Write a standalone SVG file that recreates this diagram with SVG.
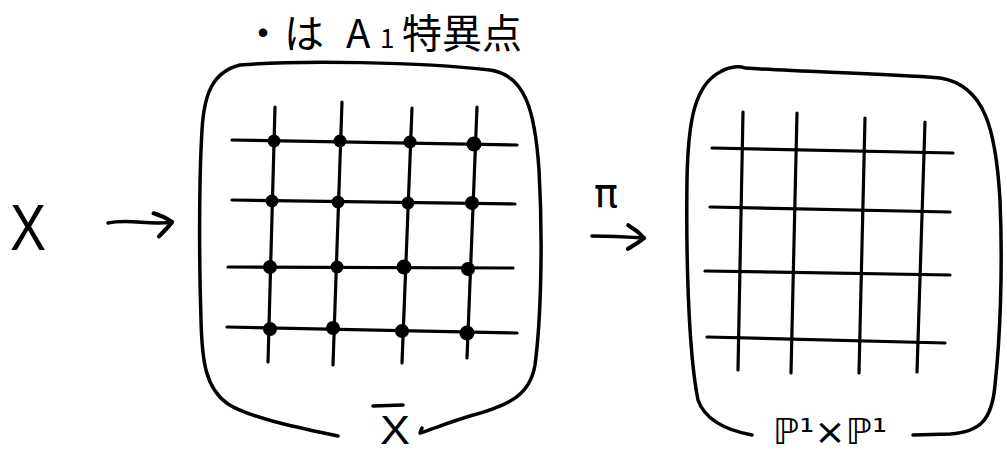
<svg xmlns="http://www.w3.org/2000/svg" width="1007" height="450" viewBox="0 0 1007 450">
<style>
  .ink{fill:none;stroke:#000;stroke-width:3.5;stroke-linecap:round;stroke-linejoin:round}
  .grid{fill:none;stroke:#000;stroke-width:3.2;stroke-linecap:round}
  .dot{fill:#000}
  .lat{font-family:"Liberation Sans",Arial,sans-serif;fill:#000}
  .jp{font-family:"Noto Sans CJK JP",sans-serif;fill:#000}
  .math{font-family:"DejaVu Sans",sans-serif;fill:#000}
</style>
<defs>
  <marker id="head" markerUnits="userSpaceOnUse" markerWidth="24" markerHeight="26" viewBox="0 0 20 22" refX="16" refY="11" orient="auto" overflow="visible">
    <path d="M2,1 C8,4 12,7 16,11 C12,15 7,18 3,21" fill="none" stroke="#000" stroke-width="3.5" stroke-linecap="round" stroke-linejoin="round"/>
  </marker>
</defs>
<rect width="1007" height="450" fill="#fff"/>

<g id="node-X">
  <text class="lat" x="10" y="250" font-size="64" textLength="36" lengthAdjust="spacingAndGlyphs">X</text>
</g>

<g id="node-Xbar">
  <path class="ink" d="M338,436 C300,428 250,418 228,404 C205,388 202,360 201,320 C199,260 199,180 202,130 C204,95 212,72 240,65 C300,60 420,62 490,70 C525,75 535,110 539,170 C543,240 541,320 535,365 C530,395 510,405 470,416 C450,422 435,428 420,433 L422,428"/>
  <g class="grid">
    <line x1="275" y1="107" x2="268" y2="362"/>
    <line x1="342" y1="102" x2="333" y2="365"/>
    <line x1="412" y1="108" x2="402" y2="363"/>
    <line x1="477" y1="107" x2="467" y2="358"/>
    <line x1="232" y1="140" x2="517" y2="145"/>
    <line x1="232" y1="200" x2="515" y2="204"/>
    <line x1="228" y1="267" x2="513" y2="268"/>
    <line x1="227" y1="327" x2="517" y2="333"/>
  </g>
  <g class="dot">
    <circle cx="274" cy="141" r="6.5"/><circle cx="340" cy="141" r="6.5"/><circle cx="410" cy="142" r="6.5"/><circle cx="474" cy="144" r="7.5"/>
    <circle cx="272" cy="201" r="6.5"/><circle cx="338" cy="202" r="6.5"/><circle cx="408" cy="203" r="6.5"/><circle cx="472" cy="203" r="7"/>
    <circle cx="270" cy="267" r="7"/><circle cx="337" cy="267" r="6.5"/><circle cx="404" cy="267" r="7.5"/><circle cx="468" cy="269" r="7"/>
    <circle cx="270" cy="329" r="7"/><circle cx="333" cy="328" r="7"/><circle cx="402" cy="331" r="7"/><circle cx="467" cy="333" r="7.5"/>
  </g>
  <text class="lat" x="380" y="444" font-size="40" textLength="30" lengthAdjust="spacingAndGlyphs">X</text>
  <line class="ink" x1="373" y1="406" x2="403" y2="405"/>
</g>

<g id="node-caption">
  <text class="jp" y="48" font-size="40"><tspan x="243">・</tspan><tspan x="284">は</tspan><tspan x="346">A</tspan><tspan x="380" font-size="26">1</tspan><tspan x="402">特異点</tspan></text>
</g>

<g id="node-P1P1">
  <path class="ink" d="M752,435 C725,430 705,420 698,400 C688,350 686,250 687,180 C688,120 695,85 720,72 C730,66 740,66 745,68 C800,72 880,73 940,78 C985,85 996,130 1000,200 C1003,270 1000,340 995,385 C992,420 980,432 950,434 L913,435"/>
  <g class="grid">
    <line x1="743" y1="112" x2="738" y2="370"/>
    <line x1="797" y1="113" x2="791" y2="373"/>
    <line x1="865" y1="118" x2="859" y2="373"/>
    <line x1="925" y1="122" x2="917" y2="372"/>
    <line x1="712" y1="148" x2="953" y2="153"/>
    <line x1="710" y1="207" x2="950" y2="212"/>
    <line x1="705" y1="271" x2="950" y2="275"/>
    <line x1="707" y1="337" x2="945" y2="343"/>
  </g>
  <text class="math" x="773" y="444" font-size="36" textLength="114" lengthAdjust="spacingAndGlyphs">ℙ¹×ℙ¹</text>
</g>

<g id="connectors">
  <g id="edge-X-Xbar">
    <path class="ink" d="M108,223 C130,218 150,226 172,222" marker-end="url(#head)"/>
  </g>
  <g id="edge-pi">
    <path class="ink" d="M592,236 C610,236 628,237 644,238" marker-end="url(#head)"/>
    <text class="math" x="594" y="207" font-size="40">π</text>
  </g>
</g>
</svg>
